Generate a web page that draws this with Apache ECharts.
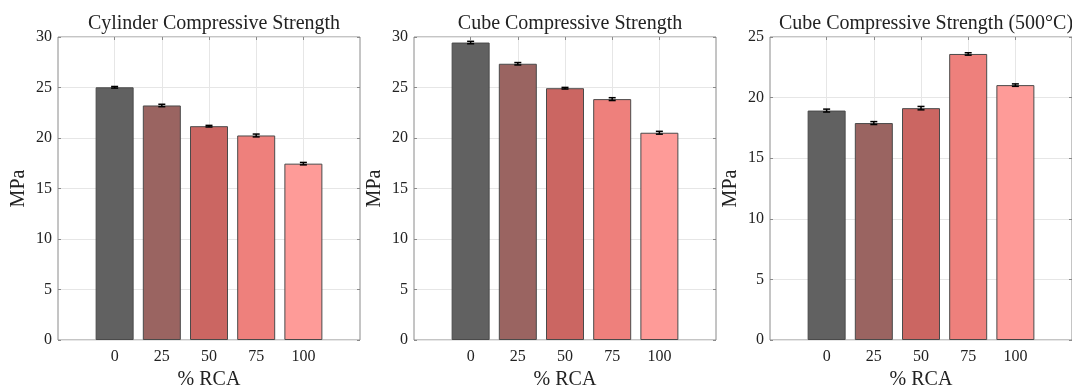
<!DOCTYPE html>
<html>
	<head>
		<meta charset="utf-8">
		<title>compressive strength</title>
		<script src="https://cdn.jsdelivr.net/npm/echarts@6/dist/echarts.min.js"></script>
	</head>
	<body style="margin: 0;">
		<div id="box" style="width: 1072px;height: 387px;"></div>
		<script>
			var mCharts = echarts.init(document.querySelector('#box'))

			// % RCA
			var rca = [0, 25, 50, 75, 100]
			var barColors = ['#616161', '#9a6461', '#cb6662', '#ee807c', '#fe9b98']

			// strength (MPa) and error
			var cylinder = [25.02, 23.22, 21.17, 20.25, 17.46]
			var cylinderErr = [0.08, 0.12, 0.08, 0.14, 0.12]
			var cube = [29.45, 27.35, 24.93, 23.85, 20.52]
			var cubeErr = [0.12, 0.12, 0.08, 0.14, 0.14]
			var cube500 = [18.93, 17.9, 19.13, 23.6, 21.03]
			var cube500Err = [0.12, 0.12, 0.14, 0.1, 0.1]

			var titles = ['Cylinder Compressive Strength', 'Cube Compressive Strength', 'Cube Compressive Strength (500°C)']
			var panels = [
				{ vals: cylinder, err: cylinderErr, ymax: 30 },
				{ vals: cube, err: cubeErr, ymax: 30 },
				{ vals: cube500, err: cube500Err, ymax: 25 }
			]

			var font = 'Liberation Serif'
			var lefts = [58, 414, 770]
			var grid = [], xAxis = [], yAxis = [], series = [], title = []

			panels.forEach(function(p, k) {
				grid.push({
					left: lefts[k], top: 37, width: 302, height: 303,
					outerBoundsMode: 'none',
					show: true, borderColor: '#8a8a8a', borderWidth: 1
				})
				title.push({
					text: titles[k], left: lefts[k] + 151, top: 9, textAlign: 'center',
					textStyle: { fontFamily: font, fontSize: 20, fontWeight: 'normal', color: '#222' }
				})
				// bottom x
				xAxis.push({
					type: 'value', gridIndex: k, min: -30, max: 130,
					name: '% RCA', nameLocation: 'middle', nameGap: 28,
					nameTextStyle: { fontFamily: font, fontSize: 20, color: '#222' },
					axisLine: { show: false, onZero: false },
					axisTick: { show: true, inside: true, length: 3, lineStyle: { color: '#8a8a8a' }, customValues: rca },
					axisLabel: { fontFamily: font, fontSize: 16, color: '#222', margin: 9, customValues: rca },
					splitLine: { show: true, lineStyle: { color: '#e6e6e6' } }
				})
				// top x (ticks only)
				xAxis.push({
					type: 'value', gridIndex: k, min: -30, max: 130, position: 'top',
					axisLine: { show: false, onZero: false },
					axisTick: { show: true, inside: true, length: 3, lineStyle: { color: '#8a8a8a' }, customValues: rca },
					axisLabel: { show: false },
					splitLine: { show: false }
				})
				yAxis.push({
					type: 'value', gridIndex: k, min: 0, max: p.ymax, interval: 5,
					name: 'MPa', nameLocation: 'middle', nameGap: 29,
					nameTextStyle: { fontFamily: font, fontSize: 20, color: '#222' },
					axisLine: { show: false, onZero: false },
					axisTick: { show: true, inside: true, length: 3, lineStyle: { color: '#8a8a8a' } },
					axisLabel: { fontFamily: font, fontSize: 16, color: '#222', margin: 6 },
					splitLine: { show: true, lineStyle: { color: '#e6e6e6' } }
				})
				yAxis.push({
					type: 'value', gridIndex: k, min: 0, max: p.ymax, interval: 5, position: 'right',
					axisLine: { show: false, onZero: false },
					axisTick: { show: true, inside: true, length: 3, lineStyle: { color: '#8a8a8a' } },
					axisLabel: { show: false },
					splitLine: { show: false }
				})

				series.push({
					type: 'bar', xAxisIndex: k * 2, yAxisIndex: k * 2, barWidth: 38,
					data: rca.map(function(x, i) {
						return { value: [x, p.vals[i]], itemStyle: { color: barColors[i] } }
					}),
					itemStyle: { borderColor: '#4a4a4a', borderWidth: 1 },
					silent: true
				})
				series.push({
					type: 'custom', xAxisIndex: k * 2, yAxisIndex: k * 2, z: 5,
					data: rca.map(function(x, i) {
						return [x, p.vals[i] - p.err[i], p.vals[i] + p.err[i]]
					}),
					renderItem: function(params, api) {
						var lo = api.coord([api.value(0), api.value(1)])
						var hi = api.coord([api.value(0), api.value(2)])
						var w = 3.5
						var st = { stroke: '#000', lineWidth: 1.5 }
						return {
							type: 'group',
							children: [
								{ type: 'line', shape: { x1: lo[0], y1: lo[1], x2: hi[0], y2: hi[1] }, style: st },
								{ type: 'line', shape: { x1: lo[0] - w, y1: lo[1], x2: lo[0] + w, y2: lo[1] }, style: st },
								{ type: 'line', shape: { x1: hi[0] - w, y1: hi[1], x2: hi[0] + w, y2: hi[1] }, style: st }
							]
						}
					}
				})
			})

			var option = {
				animation: false,
				backgroundColor: '#fff',
				title: title,
				grid: grid,
				xAxis: xAxis,
				yAxis: yAxis,
				series: series
			}
			mCharts.setOption(option)
		</script>
	</body>
</html>
